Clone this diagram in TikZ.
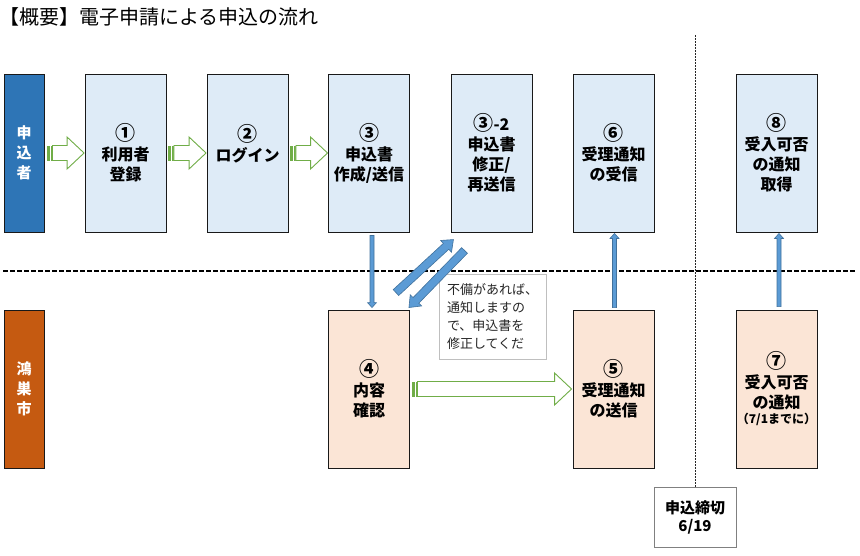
\documentclass[tikz,border=0pt]{standalone}
\usepackage{fontspec}
\newfontfamily\jp{Noto Sans CJK JP}
\usetikzlibrary{calc}
\definecolor{bandblue}{HTML}{2E75B6}
\definecolor{bandorange}{HTML}{C55A11}
\definecolor{lblue}{HTML}{DEEBF7}
\definecolor{lorange}{HTML}{FBE5D6}
\definecolor{grn}{HTML}{70AD47}
\definecolor{abl}{HTML}{5B9BD5}
\definecolor{abd}{HTML}{41719C}
\newcommand{\cnum}[1]{{\jp\fontsize{20}{20}\selectfont #1}}
\tikzset{
  boxbase/.style={draw=black!90, line width=0.9pt, minimum width=81pt, minimum height=158pt,
    inner sep=0pt, align=center, font=\jp\bfseries\fontsize{16}{20}\selectfont},
  upbox/.style={boxbase, fill=lblue},
  lowbox/.style={boxbase, fill=lorange},
  band/.style={boxbase, minimum width=40pt, text=white, font=\jp\bfseries\fontsize{15}{20}\selectfont},
  sepline/.style={black, line width=1.3pt, dash pattern=on 4.5pt off 2.5pt},
  dotline/.style={black!85, line width=0.8pt, dash pattern=on 1.5pt off 1.5pt},
  grarrowline/.style={grn, line width=0.9pt, fill=white},
  blarrowpath/.style={fill=abl, draw=abd, line width=0.6pt},
}
% green striped block arrow (horizontal)
\newcommand{\grarrow}[2]{%
  \fill[grn] let \p1=(#1) in (\x1,\y1-7.5pt) rectangle (\x1+3pt,\y1+7.5pt);
  \fill[grn] let \p1=(#1) in (\x1+4pt,\y1-7.5pt) rectangle (\x1+5.3pt,\y1+7.5pt);
  \draw[grarrowline] let \p1=(#1), \p2=(#2) in
    (\x1+5.5pt,\y1-7.5pt) -- (\x2-17pt,\y1-7.5pt) -- (\x2-17pt,\y1-16pt) -- (\x2,\y1)
    -- (\x2-17pt,\y1+16pt) -- (\x2-17pt,\y1+7.5pt) -- (\x1+5.5pt,\y1+7.5pt) -- cycle;
}
% blue block arrow: from, to, shaft half width, head half width, head length
\newcommand{\blarrow}[5]{%
  \filldraw[blarrowpath] let \p1=(#1), \p2=(#2),
      \n1={atan2(\y2-\y1,\x2-\x1)},
      \n2={veclen(\x2-\x1,\y2-\y1)-#5},
      \n3={veclen(\x2-\x1,\y2-\y1)} in
    ([shift={(\p1)},rotate=\n1]0pt,-#3pt)
    -- ([shift={(\p1)},rotate=\n1]\n2,-#3pt)
    -- ([shift={(\p1)},rotate=\n1]\n2,-#4pt)
    -- ([shift={(\p1)},rotate=\n1]\n3,0pt)
    -- ([shift={(\p1)},rotate=\n1]\n2,#4pt)
    -- ([shift={(\p1)},rotate=\n1]\n2,#3pt)
    -- ([shift={(\p1)},rotate=\n1]0pt,#3pt) -- cycle;
}
\begin{document}
\begin{tikzpicture}[x=1pt, y=-1pt]
\useasboundingbox (0,0) rectangle (860,555);

% title
\node[anchor=west, inner sep=0pt, font=\jp\fontsize{20}{22}\selectfont] (title) at (-1,17) {【概要】電子申請による申込の流れ};

% separator lines
\coordinate (hl) at (3,271);
\coordinate (hr) at (855,271);
\draw[sepline] (hl) -- (hr);

% deadline box and vertical line
\node[draw=black!50, line width=0.9pt, fill=white, minimum width=82pt, minimum height=60pt,
      inner sep=0pt, align=center, font=\jp\bfseries\fontsize{15}{18}\selectfont] (dl) at (695,517) {申込締切\\6/19};
\coordinate (vt) at (695,35);
\draw[dotline] (vt) -- (dl.north);

% bands
\node[band, fill=bandblue] (band1) at (24,153) {申\\込\\者};
\node[band, fill=bandorange] (band2) at (24,389) {鴻\\巣\\市};

% upper boxes
\node[upbox] (b1) at (125.5,153) {\cnum{①}\\利用者\\登録};
\node[upbox] (b2) at (247.5,153) {\cnum{②}\\ログイン\\\mbox{}};
\node[upbox] (b3) at (369,153) {\cnum{③}\\申込書\\作成/送信};
\node[upbox] (b32) at (491.5,153) {\cnum{③}-2\\申込書\\修正/\\再送信};
\node[upbox] (b6) at (613.5,153) {\cnum{⑥}\\受理通知\\の受信};
\node[upbox] (b8) at (776.5,153) {\cnum{⑧}\\受入可否\\の通知\\取得};

% lower boxes
\node[lowbox] (b4) at (369,389) {\cnum{④}\\内容\\確認};
\node[lowbox] (b5) at (613.5,389) {\cnum{⑤}\\受理通知\\の送信};
\node[lowbox] (b7) at (776.5,389) {\cnum{⑦}\\受入可否\\の通知\\[-5pt]{\fontsize{12}{14}\selectfont （7/1までに）}};

% note
\node[draw=black!25, line width=0.9pt, fill=white, minimum width=107pt, minimum height=85pt,
      inner sep=0pt, align=left, text=black!85, font=\jp\fontsize{13}{18}\selectfont] (note) at (492.5,316.5)
      {不備があれば、\\通知しますの\\で、申込書を\\修正してくだ};

% green arrows
\coordinate (g0s) at ($(band1.east)+(2.5,0)$);
\coordinate (g0e) at ($(b1.west)+(-0.5,0)$);
\grarrow{g0s}{g0e}
\coordinate (g1s) at ($(b1.east)+(2,0)$);
\coordinate (g1e) at ($(b2.west)+(-0.5,0)$);
\grarrow{g1s}{g1e}
\coordinate (g2s) at ($(b2.east)+(2,0)$);
\coordinate (g2e) at ($(b3.west)+(-0.5,0)$);
\grarrow{g2s}{g2e}
\coordinate (g4s) at ($(b4.east)+(2,0)$);
\coordinate (g4e) at ($(b5.west)+(-1,0)$);
\grarrow{g4s}{g4e}

% blue arrows
\coordinate (a34s) at ($(b3.south)+(3,3)$);
\coordinate (a34e) at ($(b4.north)+(3,-2)$);
\blarrow{a34s}{a34e}{2}{4.5}{5}
\coordinate (a56s) at ($(b5.north)+(1,-2)$);
\coordinate (a56e) at ($(b6.south)+(1,1)$);
\blarrow{a56s}{a56e}{2}{4.5}{5}
\coordinate (a78s) at ($(b7.north)+(2.5,-3)$);
\coordinate (a78e) at ($(b8.south)+(2.5,1)$);
\blarrow{a78s}{a78e}{2}{4.5}{5}
\coordinate (dus) at ($(b4.north east)+(-14,-17)$);
\coordinate (due) at ($(b32.south west)+(3,7)$);
\blarrow{dus}{due}{4}{8}{10}
\coordinate (dds) at ($(b32.south west)+(14,18)$);
\coordinate (dde) at ($(b4.north east)+(-1,-2)$);
\blarrow{dds}{dde}{4}{8}{10}
\end{tikzpicture}
\end{document}
